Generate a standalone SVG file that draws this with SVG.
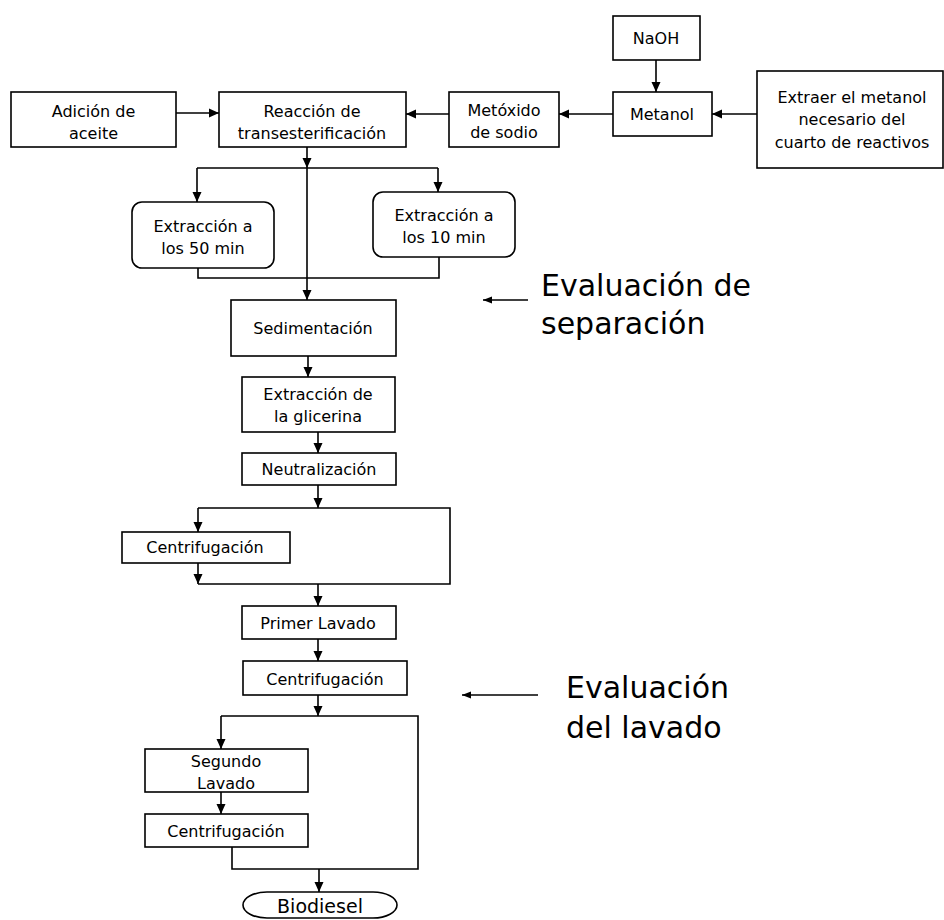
<svg xmlns="http://www.w3.org/2000/svg" width="944" height="920" viewBox="0 0 944 920">
<style>
.box{fill:#fff;stroke:#000;stroke-width:1.6}
.t{font-family:"DejaVu Sans",Verdana,sans-serif;font-size:16px;text-anchor:middle;fill:#000}
.big{font-family:"DejaVu Sans",Verdana,sans-serif;font-size:30px;fill:#000}
.c{fill:none;stroke:#000;stroke-width:1.6}
.ca{fill:none;stroke:#000;stroke-width:1.6;marker-end:url(#ah)}
.cs{fill:none;stroke:#000;stroke-width:1.3;marker-end:url(#ahs)}
</style>
<defs>
<marker id="ah" markerUnits="userSpaceOnUse" markerWidth="10" markerHeight="10" refX="10" refY="5" orient="auto"><path d="M0,0.5 L10,5 L0,9.5 z" fill="#000"/></marker>
<marker id="ahs" markerUnits="userSpaceOnUse" markerWidth="9" markerHeight="8" refX="9" refY="4" orient="auto"><path d="M0,0.5 L9,4 L0,7.5 z" fill="#000"/></marker>
</defs>
<rect width="944" height="920" fill="#fff"/>
<g id="connectors">
<path class="ca" d="M176,113 H219"/>
<path class="ca" d="M449,114 H406"/>
<path class="ca" d="M613,114 H559"/>
<path class="ca" d="M757,114 H712"/>
<path class="ca" d="M656,60 V92"/>
<path class="ca" d="M307,147 V168"/>
<path class="ca" d="M307,168 V300"/>
<path class="c" d="M197,168 H438"/>
<path class="ca" d="M197,168 V202"/>
<path class="ca" d="M438,168 V192"/>
<path class="c" d="M198,268 V278 H439 V257"/>
<path class="ca" d="M308,356 V377"/>
<path class="ca" d="M318,432 V453"/>
<path class="ca" d="M318,485 V508"/>
<path class="c" d="M198,508 H450 V584 H198"/>
<path class="ca" d="M198,508 V532"/>
<path class="ca" d="M198,563 V584"/>
<path class="ca" d="M318,584 V606"/>
<path class="ca" d="M318,639 V661"/>
<path class="ca" d="M318,695 V716"/>
<path class="c" d="M221,716 H418 V869 H232 V847"/>
<path class="ca" d="M221,716 V749"/>
<path class="ca" d="M221,792 V814"/>
<path class="ca" d="M319,869 V892"/>
<path class="cs" d="M528,300 H483"/>
<path class="cs" d="M538,695 H462"/>
</g>
<g id="adicion"><rect class="box" x="11" y="92" width="165" height="55"/><text class="t" x="93.5" y="117">Adición de</text><text class="t" x="93.5" y="139">aceite</text></g>
<g id="reaccion"><rect class="box" x="219" y="92" width="187" height="55"/><text class="t" x="312" y="117">Reacción de</text><text class="t" x="312" y="139">transesterificación</text></g>
<g id="metoxido"><rect class="box" x="449" y="92" width="110" height="55"/><text class="t" x="504" y="116">Metóxido</text><text class="t" x="504" y="138">de sodio</text></g>
<g id="naoh"><rect class="box" x="613" y="16" width="87" height="44"/><text class="t" x="656" y="44">NaOH</text></g>
<g id="metanol"><rect class="box" x="613" y="92" width="99" height="44"/><text class="t" x="662" y="120">Metanol</text></g>
<g id="extraer"><rect class="box" x="757" y="71" width="186" height="97"/><text class="t" x="852" y="103">Extraer el metanol</text><text class="t" x="852" y="125">necesario del</text><text class="t" x="852" y="148">cuarto de reactivos</text></g>
<g id="ext50"><rect class="box" x="132" y="202" width="142" height="66" rx="10"/><text class="t" x="203" y="232">Extracción a</text><text class="t" x="203" y="254">los 50 min</text></g>
<g id="ext10"><rect class="box" x="373" y="192" width="142" height="65" rx="10"/><text class="t" x="444" y="221">Extracción a</text><text class="t" x="444" y="243">los 10 min</text></g>
<g id="sedimentacion"><rect class="box" x="231" y="300" width="165" height="56"/><text class="t" x="313" y="334">Sedimentación</text></g>
<g id="glicerina"><rect class="box" x="242" y="377" width="153" height="55"/><text class="t" x="318" y="400">Extracción de</text><text class="t" x="318" y="422">la glicerina</text></g>
<g id="neutralizacion"><rect class="box" x="242" y="453" width="154" height="32"/><text class="t" x="319" y="475">Neutralización</text></g>
<g id="centrif1"><rect class="box" x="122" y="532" width="168" height="31"/><text class="t" x="205" y="553">Centrifugación</text></g>
<g id="primer"><rect class="box" x="242" y="606" width="154" height="33"/><text class="t" x="318" y="629">Primer Lavado</text></g>
<g id="centrif2"><rect class="box" x="243" y="661" width="164" height="34"/><text class="t" x="325" y="685">Centrifugación</text></g>
<g id="segundo"><rect class="box" x="145" y="749" width="163" height="43"/><text class="t" x="226" y="767">Segundo</text><text class="t" x="226" y="789">Lavado</text></g>
<g id="centrif3"><rect class="box" x="145" y="814" width="163" height="33"/><text class="t" x="226" y="837">Centrifugación</text></g>
<g id="biodiesel"><rect class="box" x="243" y="892" width="154" height="26" rx="24" ry="13"/><text class="t" x="320" y="913" style="font-size:19px">Biodiesel</text></g>
<g id="eval-sep"><text class="big" x="541" y="296">Evaluación de</text><text class="big" x="541" y="334">separación</text></g>
<g id="eval-lav"><text class="big" x="566" y="698">Evaluación</text><text class="big" x="566" y="738">del lavado</text></g>
</svg>
